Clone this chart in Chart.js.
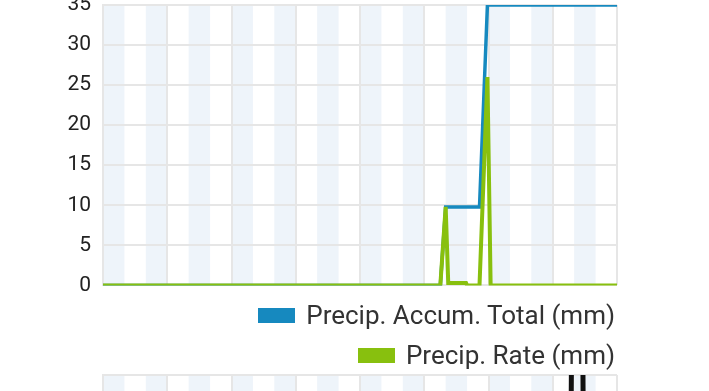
<!DOCTYPE html>
<html>
<head>
<meta charset="utf-8">
<script src="https://cdn.jsdelivr.net/npm/chart.js@4.4.1/dist/chart.umd.min.js"></script>
<style>
html,body{margin:0;padding:0;background:#fff;overflow:hidden;width:709px;height:391px;}
#box1{position:absolute;left:0;top:-20px;width:709px;height:330px;}
#box2{position:absolute;left:0;top:370px;width:709px;height:200px;}
#legend{position:absolute;right:94px;top:300px;font-family:Roboto,sans-serif;font-size:26px;color:#333;text-align:right;}
#legend div{height:40px;line-height:30px;white-space:nowrap;}
#legend span.sw{display:inline-block;width:37px;height:15px;margin-right:11px;vertical-align:1px;}
</style>
</head>
<body>
<div id="box1"><canvas id="precipChart"></canvas></div>
<div id="legend"></div>
<div id="box2"><canvas id="nextChart"></canvas></div>
<script>

// hours of the day
const hours=[0,15.75,16.0,16.12,16.95,17.0,17.58,17.95,18.1,24];
const accumTotal=[0,0,9.8,9.8,9.8,9.8,9.8,35,35,35];
const precipRate=[0,0,9.8,0.3,0.3,0,0,26,0,0];
const yTicks=[0,5,10,15,20,25,30,35];

// the chart below, only its top edge shows
const hours2=[0,21.82,21.88,22.4,22.46,24];
const values2=[1,1,12,12,1,1];

const blue="#1689bf";
const green="#88c00e";
const gridColor="#e6e6e6";

const bands={
id:"bands",
beforeDraw(chart){
const {ctx,chartArea,scales:{x}}=chart;
ctx.save();
ctx.fillStyle="#eef4fa";
for(let h=0;h<24;h+=2){
const x1=x.getPixelForValue(h);
const x2=x.getPixelForValue(h+1);
ctx.fillRect(x1,chartArea.top,x2-x1,chartArea.bottom-chartArea.top);
}
ctx.restore();
}
};

function xScale(){
return {
type:"linear",
min:0,
max:24,
ticks:{display:false,stepSize:3},
grid:{color:gridColor,lineWidth:2,drawTicks:false},
border:{display:false}
};
}

const precipChart=new Chart(
document.getElementById("precipChart"),
{
type:"line",
data:{
datasets:[
{
label:"Precip. Accum. Total (mm)",
data:hours.map((h,i)=>({x:h,y:accumTotal[i]})),
borderColor:blue,
backgroundColor:blue,
borderWidth:3.5,
pointRadius:0,
order:1
},
{
label:"Precip. Rate (mm)",
data:hours.map((h,i)=>({x:h,y:precipRate[i]})),
borderColor:green,
backgroundColor:green,
borderWidth:4,
pointRadius:0,
order:0
}
]
},
options:{
responsive:true,
maintainAspectRatio:false,
animation:false,
layout:{padding:{top:25,right:92,bottom:5,left:0}},
plugins:{legend:{display:false},tooltip:{enabled:false}},
scales:{
x:xScale(),
y:{
min:0,
max:35,
afterFit(axis){axis.width=103;},
afterBuildTicks(axis){axis.ticks=yTicks.map(v=>({value:v}));},
ticks:{padding:12,color:"#222",font:{family:"Roboto",size:21}},
grid:{color:gridColor,lineWidth:2,drawTicks:false},
border:{color:gridColor,width:2}
}
}
},
plugins:[bands]
}
);

const nextChart=new Chart(
document.getElementById("nextChart"),
{
type:"line",
data:{
datasets:[
{
label:"",
data:hours2.map((h,i)=>({x:h,y:values2[i]})),
borderColor:"#111",
borderWidth:5,
pointRadius:0
}
]
},
options:{
responsive:true,
maintainAspectRatio:false,
animation:false,
layout:{padding:{top:5,right:92,bottom:5,left:0}},
plugins:{legend:{display:false},tooltip:{enabled:false}},
scales:{
x:xScale(),
y:{
min:0,
max:10,
afterFit(axis){axis.width=103;},
ticks:{display:false},
grid:{color:gridColor,lineWidth:2,drawTicks:false},
border:{color:gridColor,width:2}
}
}
},
plugins:[bands]
}
);

// legend rows, from the first chart's datasets
precipChart.data.datasets.forEach(ds=>{
const row=document.createElement("div");
const sw=document.createElement("span");
sw.className="sw";
sw.style.background=ds.borderColor;
row.appendChild(sw);
row.appendChild(document.createTextNode(ds.label));
document.getElementById("legend").appendChild(row);
});

</script>
</body>
</html>
